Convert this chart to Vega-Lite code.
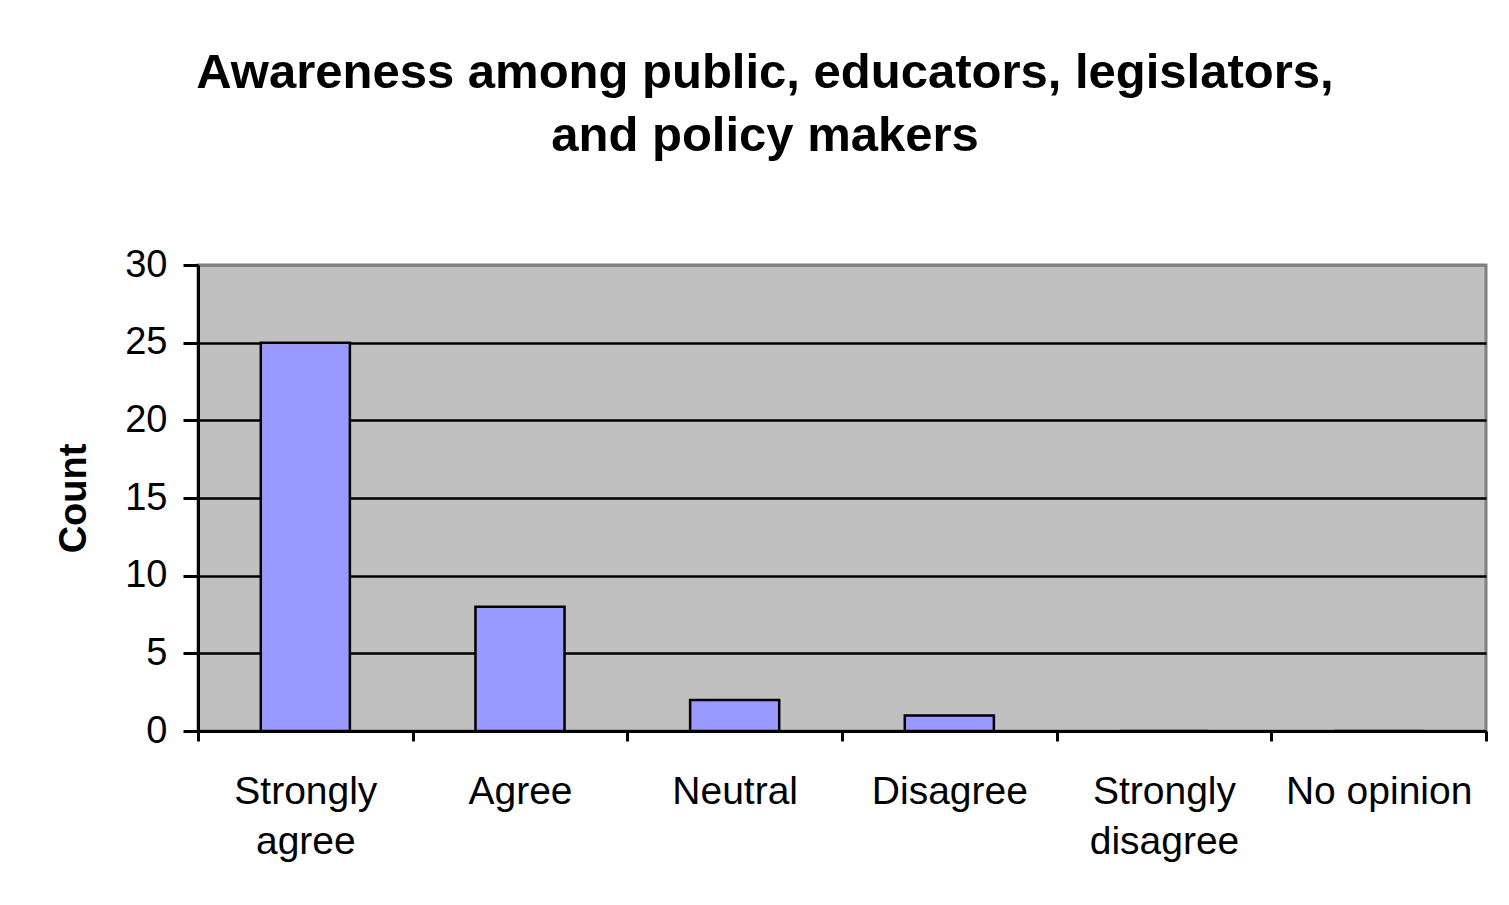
{
  "$schema": "https://vega.github.io/schema/vega-lite/v6.json",
  "autosize": "none",
  "width": 1288,
  "height": 466,
  "padding": {"left": 198, "top": 265, "right": 23, "bottom": 174},
  "background": "white",
  "title": {
    "text": ["Awareness among public, educators, legislators,", "and policy makers"],
    "font": "Liberation Sans",
    "fontSize": 49,
    "fontWeight": "bold",
    "color": "black",
    "anchor": "middle",
    "dx": -77,
    "lineHeight": 63,
    "offset": 85
  },
  "data": {
    "values": [
      {"response": "Strongly agree", "count": 25},
      {"response": "Agree", "count": 8},
      {"response": "Neutral", "count": 2},
      {"response": "Disagree", "count": 1},
      {"response": "Strongly disagree", "count": 0},
      {"response": "No opinion", "count": 0}
    ]
  },
  "mark": {"type": "bar", "fill": "#9999FF", "stroke": "black", "strokeWidth": 2.5, "width": {"band": 0.415}},
  "encoding": {
    "x": {
      "field": "response",
      "type": "nominal",
      "sort": null,
      "scale": {"paddingInner": 0, "paddingOuter": 0},
      "axis": {
        "title": null,
        "labelAngle": 0,
        "labelFont": "Liberation Sans",
        "labelFontSize": 39,
        "labelColor": "black",
        "labelPadding": 31,
        "labelLineHeight": 50,
        "labelLimit": 0,
        "labelExpr": "datum.label == 'No opinion' ? datum.label : split(datum.label, ' ')",
        "tickBand": "extent",
        "tickSize": 10,
        "tickWidth": 3,
        "tickColor": "black",
        "domainColor": "black",
        "domainWidth": 3,
        "grid": false
      }
    },
    "y": {
      "field": "count",
      "type": "quantitative",
      "scale": {"domain": [0, 30]},
      "axis": {
        "title": "Count",
        "titleFont": "Liberation Sans",
        "titleFontSize": 38,
        "titleFontWeight": "bold",
        "titleColor": "black",
        "titlePadding": 31,
        "values": [0, 5, 10, 15, 20, 25, 30],
        "labelFont": "Liberation Sans",
        "labelFontSize": 38,
        "labelColor": "black",
        "labelPadding": 16,
        "tickSize": 15,
        "tickWidth": 3,
        "tickColor": "black",
        "domainColor": "black",
        "domainWidth": 3,
        "grid": true,
        "gridColor": {"condition": {"test": "datum.value == 30", "value": "#808080"}, "value": "black"},
        "gridWidth": 2.5,
        "gridOpacity": 1
      }
    }
  },
  "config": {
    "view": {"fill": "#C0C0C0", "stroke": "#808080", "strokeWidth": 3}
  }
}
